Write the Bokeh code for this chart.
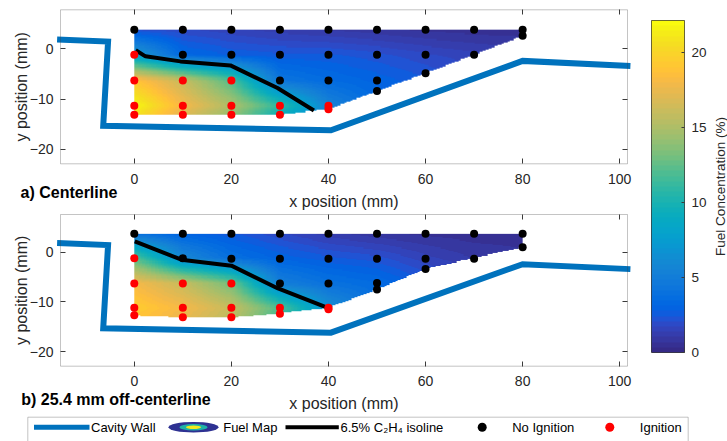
import numpy as np
from bokeh.plotting import figure
from bokeh.models import (Range1d, LinearAxis, FixedTicker, LinearColorMapper, Label,
                          CustomJSTickFormatter, BoxAnnotation)
from bokeh.layouts import row, column
from bokeh.embed import file_html
from bokeh.resources import INLINE
from bokeh.core.properties import value

# ------------------------------------------------------------------ data
x_ticks = [0, 20, 40, 60, 80, 100]
y_ticks = [-20, -10, 0]
cbar_ticks = [0, 5, 10, 15, 20]
cbar_max = 22.15

# cavity wall outline (mm)
wall_x = [-15.9, -5.4, -6.4, 40.5, 80.0, 102.2]
wall_y = [1.85, 1.45, -15.3, -16.2, -2.4, -3.4]

# fuel-map sample grid (columns x, rows y) in %
grid_x = [0, 10, 20, 30, 40, 50, 60, 70, 80]

top_rows_y = [3.8, -1.2, -6.3, -11.3, -13.1]
top_fuel = [
    [2.0, 1.8, 1.5, 1.2, 1.0, 0.8, 0.6, 0.5, 0.5],
    [7.5, 3.3, 2.7, 2.5, 2.5, 2.2, 1.8, 1.5, 1.2],
    [19.0, 16.0, 12.0, 4.3, 3.5, 3.0, 2.5, 2.0, 1.5],
    [22.0, 18.0, 15.0, 11.0, 5.5, 3.5, 3.0, 2.5, 2.0],
    [21.0, 17.0, 14.0, 9.5, 5.0, 3.5, 3.0, 2.5, 2.0],
]
top_map_top = 3.8
top_edge_x = [0, 10, 20, 30, 40, 50, 60, 70, 80]
top_edge_y = [-13.1, -13.1, -13.1, -13.1, -12.0, -8.4, -4.85, -1.2, 2.6]

off_rows_y = [3.7, -1.2, -6.3, -11.2, -13.1]
off_fuel = [
    [4.0, 3.0, 2.5, 1.8, 1.2, 0.8, 0.6, 0.5, 0.5],
    [12.2, 5.9, 3.8, 3.0, 2.5, 2.2, 1.5, 1.0, 0.8],
    [18.0, 16.0, 13.0, 5.1, 4.0, 3.5, 2.5, 1.8, 1.2],
    [19.5, 18.0, 16.0, 12.0, 6.5, 4.0, 3.0, 2.0, 1.5],
    [19.0, 17.5, 15.5, 11.5, 6.5, 4.0, 3.0, 2.0, 1.5],
]
off_map_top = 3.7
off_edge_x = [0, 10, 20, 30, 40, 50, 60, 70, 80]
off_edge_y = [-12.7, -13.1, -13.1, -12.3, -11.2, -7.5, -3.4, -1.2, 1.0]

# 6.5 % C2H4 isolines
top_iso_x = [0.3, 2.3, 9.5, 19.8, 29.5, 37.0]
top_iso_y = [-0.3, -1.5, -2.5, -3.3, -7.8, -12.25]
off_iso_x = [0.1, 9.7, 20.0, 29.6, 39.6]
off_iso_y = [2.2, -1.5, -2.7, -7.3, -11.1]

# ignition test points
top_noign_x = [0, 10, 10, 20, 20, 30, 30, 30, 40, 40, 40, 50, 50, 50, 50, 60, 60, 60, 70, 70, 80, 80]
top_noign_y = [3.8, 3.8, -1.2, 3.8, -1.2, 3.8, -1.2, -6.3, 3.8, -1.2, -6.3, 3.8, -1.2, -6.3, -8.4,
               3.8, -1.2, -4.85, 3.8, -1.2, 3.8, 2.6]
top_ign_x = [0, 0, 0, 0, 10, 10, 10, 20, 20, 20, 30, 30, 40, 40]
top_ign_y = [-1.2, -6.3, -11.3, -13.1, -6.3, -11.3, -13.1, -6.3, -11.3, -13.1, -11.3, -13.1, -11.3, -12.0]

off_noign_x = [0, 10, 10, 20, 20, 30, 30, 30, 40, 40, 40, 50, 50, 50, 50, 60, 60, 60, 70, 70, 80, 80]
off_noign_y = [3.7, 3.7, -1.2, 3.7, -1.3, 3.7, -1.3, -6.3, 3.7, -1.3, -6.3, 3.7, -1.3, -6.2, -7.5,
               3.7, -1.3, -3.4, 3.7, -1.3, 3.7, 1.0]
off_ign_x = [0, 0, 0, 0, 10, 10, 10, 20, 20, 20, 30, 30, 40, 40]
off_ign_y = [-1.2, -6.3, -11.2, -12.7, -6.3, -11.2, -13.1, -6.3, -11.2, -13.1, -11.2, -12.4, -11.2, -11.5]

legend_labels = ["Cavity Wall", "Fuel Map", "6.5% C\u2082H\u2084 isoline", "No Ignition", "Ignition"]

# ------------------------------------------------------------------ style
PARULA = [
    (0.2081, 0.1663, 0.5292), (0.2116, 0.1898, 0.5777), (0.2123, 0.2138, 0.6270), (0.2081, 0.2386, 0.6771),
    (0.1959, 0.2645, 0.7279), (0.1707, 0.2919, 0.7792), (0.1253, 0.3242, 0.8303), (0.0591, 0.3598, 0.8683),
    (0.0117, 0.3875, 0.8820), (0.0060, 0.4086, 0.8828), (0.0165, 0.4266, 0.8786), (0.0329, 0.4430, 0.8720),
    (0.0498, 0.4586, 0.8641), (0.0629, 0.4737, 0.8554), (0.0723, 0.4887, 0.8467), (0.0779, 0.5040, 0.8384),
    (0.0793, 0.5200, 0.8312), (0.0749, 0.5375, 0.8263), (0.0641, 0.5570, 0.8240), (0.0488, 0.5772, 0.8228),
    (0.0343, 0.5966, 0.8199), (0.0265, 0.6137, 0.8135), (0.0239, 0.6287, 0.8038), (0.0231, 0.6418, 0.7913),
    (0.0228, 0.6535, 0.7768), (0.0267, 0.6642, 0.7607), (0.0384, 0.6743, 0.7436), (0.0590, 0.6838, 0.7254),
    (0.0843, 0.6928, 0.7062), (0.1133, 0.7015, 0.6859), (0.1453, 0.7098, 0.6646), (0.1801, 0.7177, 0.6424),
    (0.2178, 0.7250, 0.6193), (0.2586, 0.7317, 0.5954), (0.3022, 0.7376, 0.5712), (0.3482, 0.7424, 0.5473),
    (0.3953, 0.7459, 0.5244), (0.4420, 0.7481, 0.5033), (0.4871, 0.7491, 0.4840), (0.5300, 0.7491, 0.4661),
    (0.5709, 0.7485, 0.4494), (0.6099, 0.7473, 0.4337), (0.6473, 0.7456, 0.4188), (0.6834, 0.7435, 0.4044),
    (0.7184, 0.7411, 0.3905), (0.7525, 0.7384, 0.3768), (0.7858, 0.7356, 0.3633), (0.8185, 0.7327, 0.3498),
    (0.8507, 0.7299, 0.3360), (0.8824, 0.7274, 0.3217), (0.9139, 0.7258, 0.3063), (0.9450, 0.7261, 0.2886),
    (0.9739, 0.7314, 0.2666), (0.9938, 0.7455, 0.2403), (0.9990, 0.7653, 0.2164), (0.9955, 0.7861, 0.1967),
    (0.9880, 0.8066, 0.1794), (0.9789, 0.8271, 0.1633), (0.9697, 0.8481, 0.1475), (0.9626, 0.8705, 0.1309),
    (0.9589, 0.8949, 0.1132), (0.9598, 0.9218, 0.0948), (0.9661, 0.9514, 0.0755), (0.9763, 0.9831, 0.0538),
]
palette = ["#%02x%02x%02x" % tuple(int(round(c * 255)) for c in rgb) for rgb in PARULA]
mapper = LinearColorMapper(palette=palette, low=0, high=cbar_max, nan_color=(0, 0, 0, 0.0))

FONT = "Liberation Sans"
TXT = "#262626"
BOX = "#3a3a3a"
WALL = "#0072BD"
X_LIM = (-15.2, 101.6)


def field(rows_y, vals, edge_x, edge_y, top, nx=320, ny=72):
    y0 = min(edge_y)
    xf = (np.arange(nx) + 0.5) * (80.0 / nx)
    yf = y0 + (np.arange(ny) + 0.5) * ((top - y0) / ny)
    vals = np.asarray(vals, dtype=float)
    rows = np.array([np.interp(xf, grid_x, r) for r in vals])
    order = np.argsort(rows_y)
    ys = np.asarray(rows_y)[order]
    rows = rows[order]
    Z = np.empty((ny, nx))
    for j in range(nx):
        Z[:, j] = np.interp(yf, ys, rows[:, j])
    low = np.interp(xf, edge_x, edge_y)
    YY = np.repeat(yf[:, None], nx, axis=1)
    LL = np.repeat(low[None, :], ny, axis=0)
    Z[(YY < LL) | (YY > top)] = np.nan
    return Z, y0, top - y0


def axis_style(ax, size):
    ax.major_label_text_font = FONT
    ax.major_label_text_color = TXT
    ax.major_label_text_font_size = size
    ax.axis_line_color = None
    ax.major_tick_line_color = BOX
    ax.minor_tick_line_color = None
    ax.major_tick_out = 0
    return ax


def panel(rows_y, fuel, edge_x, edge_y, top, iso_x, iso_y, nx_, ny_, ix_, iy_,
          caption, W, H, box_px, ylim, cap_pos, xlab_y):
    # box_px = (left, top, right, bottom) pixel position of the axes box inside this canvas
    bl, bt, br, bb = box_px
    kx = (br - bl) / (X_LIM[1] - X_LIM[0])
    ky = (bb - bt) / (ylim[1] - ylim[0])
    xr = Range1d(X_LIM[0] - bl / kx, X_LIM[1] + (W - br) / kx)
    yr = Range1d(ylim[0] - (H - bb) / ky, ylim[1] + bt / ky)
    p = figure(width=W, height=H, x_range=xr, y_range=yr, output_backend="svg",
               toolbar_location=None, x_axis_location=None, y_axis_location=None, min_border=0)
    p.grid.visible = False
    p.outline_line_color = None
    p.background_fill_color = "white"
    p.border_fill_color = "white"

    Z, y0, dh = field(rows_y, fuel, edge_x, edge_y, top)
    p.image(image=[Z], x=0, y=y0, dw=80, dh=dh, color_mapper=mapper)
    p.line(wall_x, wall_y, line_color=WALL, line_width=6, line_join="miter")
    p.line(iso_x, iso_y, line_color="black", line_width=4)
    p.scatter(nx_, ny_, size=8, fill_color="black", line_color=None)
    p.scatter(ix_, iy_, size=8, fill_color="#FF0000", line_color=None)

    p.add_layout(BoxAnnotation(left=X_LIM[0], right=X_LIM[1], bottom=ylim[0], top=ylim[1],
                               fill_color=None, line_color=BOX, line_width=1))

    blank = CustomJSTickFormatter(code="return ''")
    xax = axis_style(LinearAxis(fixed_location=ylim[0], ticker=FixedTicker(ticks=x_ticks)), "14px")
    xax.major_tick_in = 5
    xax.major_label_standoff = 10
    p.add_layout(xax, "below")
    yax = axis_style(LinearAxis(fixed_location=X_LIM[0], ticker=FixedTicker(ticks=y_ticks)), "14px")
    yax.major_tick_in = 5
    yax.major_label_standoff = 7
    p.add_layout(yax, "left")
    tax = axis_style(LinearAxis(fixed_location=ylim[1], ticker=FixedTicker(ticks=x_ticks),
                                formatter=blank), "0px")
    tax.major_tick_in = 5
    p.add_layout(tax, "above")
    rax = axis_style(LinearAxis(fixed_location=X_LIM[1], ticker=FixedTicker(ticks=y_ticks),
                                formatter=blank), "0px")
    rax.major_tick_in = 5
    p.add_layout(rax, "right")

    # axis titles and panel caption (screen units from the canvas bottom-left)
    p.add_layout(Label(x=(bl + br) / 2, y=xlab_y, x_units="screen", y_units="screen",
                       text="x position (mm)", text_font=FONT, text_font_size="16px",
                       text_color=TXT, text_align="center", text_baseline="middle"))
    p.add_layout(Label(x=21, y=H - (bt + bb) / 2, x_units="screen", y_units="screen",
                       text="y position (mm)", angle=np.pi / 2, text_font=FONT,
                       text_font_size="16px", text_color=TXT, text_align="center",
                       text_baseline="middle"))
    p.add_layout(Label(x=cap_pos[0], y=cap_pos[1], x_units="screen", y_units="screen",
                       text=caption, text_font=FONT, text_font_size="16px",
                       text_font_style="bold", text_color="black", text_align="left",
                       text_baseline="middle"))
    return p


p1 = panel(top_rows_y, top_fuel, top_edge_x, top_edge_y, top_map_top, top_iso_x, top_iso_y,
           top_noign_x, top_noign_y, top_ign_x, top_ign_y, "a) Centerline",
           638, 213, (60, 9.3, 627, 163.3), (-22.85, 7.75), (20, 213 - 192.3), 213 - 200.7)
p2 = panel(off_rows_y, off_fuel, off_edge_x, off_edge_y, off_map_top, off_iso_x, off_iso_y,
           off_noign_x, off_noign_y, off_ign_x, off_ign_y, "b) 25.4 mm off-centerline",
           638, 202, (60, 1, 627, 152.7), (-22.95, 7.6), (20.7, 202 - 186), 202 - 190.3)

# ------------------------------------------------------------------ colorbar
cb = figure(width=71, height=415, x_range=Range1d(0, 1), y_range=Range1d(0, cbar_max),
            output_backend="svg", toolbar_location=None, x_axis_location=None,
            y_axis_location="right", min_border_left=13, min_border_right=23,
            min_border_top=20, min_border_bottom=63)
cb.grid.visible = False
cb.outline_line_color = BOX
cb.border_fill_color = "white"
grad = np.linspace(0, cbar_max, 256).reshape(256, 1)
cb.image(image=[grad], x=0, y=0, dw=1, dh=cbar_max, color_mapper=mapper)
cb.yaxis.ticker = FixedTicker(ticks=cbar_ticks)
for ax in cb.yaxis:
    axis_style(ax, "13.5px")
    ax.major_tick_in = 3
    ax.major_label_standoff = 7

# colorbar title (reads bottom-to-top, so it is a left axis label of a slim strip)
cbt = figure(width=18, height=415, x_range=Range1d(0, 1), y_range=Range1d(0, cbar_max),
             output_backend="svg", toolbar_location=None, x_axis_location=None,
             y_axis_location="left", min_border_left=17, min_border_right=0,
             min_border_top=20, min_border_bottom=63)
cbt.grid.visible = False
cbt.outline_line_color = None
cbt.border_fill_color = "white"
cbt.background_fill_color = "white"
cbt.yaxis.ticker = FixedTicker(ticks=[])
cbt.yaxis.axis_label = "Fuel Concentration (%)"
for ax in cbt.yaxis:
    axis_style(ax, "0px")
    ax.major_tick_in = 0
    ax.major_label_standoff = 0
    ax.axis_label_text_font = FONT
    ax.axis_label_text_font_style = "normal"
    ax.axis_label_text_color = TXT
    ax.axis_label_text_font_size = "13.5px"
    ax.axis_label_standoff = 0

# ------------------------------------------------------------------ legend strip
lg = figure(width=727, height=26, x_range=Range1d(0, 727), y_range=Range1d(0, 26),
            output_backend="svg", toolbar_location=None, x_axis_location=None,
            y_axis_location=None, min_border=0)
lg.grid.visible = False
lg.outline_line_color = None
lg.border_fill_color = "white"
lg.add_layout(BoxAnnotation(left=27.3, right=687.7, bottom=-10, top=24.3, fill_color=None,
                            line_color=BOX, line_width=1))
cy = 14.3
lg.line([33.5, 89], [cy, cy], line_color=WALL, line_width=5)
lg.ellipse(x=[193, 193, 193], y=[cy, cy, cy], width=[50, 28, 15], height=[10.5, 6.5, 3.5],
           fill_color=["#2e3192", "#1fb3a6", "#f2ea1c"], line_color=None)
lg.line([285, 338.3], [cy, cy], line_color="black", line_width=4)
lg.scatter([481.7], [cy], size=9, fill_color="black", line_color=None)
lg.scatter([609.3], [cy], size=9, fill_color="#FF0000", line_color=None)
lg.text(x=[90.5, 222.7, 340, 511.7, 639.3], y=[cy] * 5, text=legend_labels,
        text_font=value(FONT), text_font_size="13px", text_color="black",
        text_baseline="middle", text_align="left")

layout = column(row(column(p1, p2), cb, cbt), lg)
open("out.html", "w").write(file_html(layout, INLINE))
